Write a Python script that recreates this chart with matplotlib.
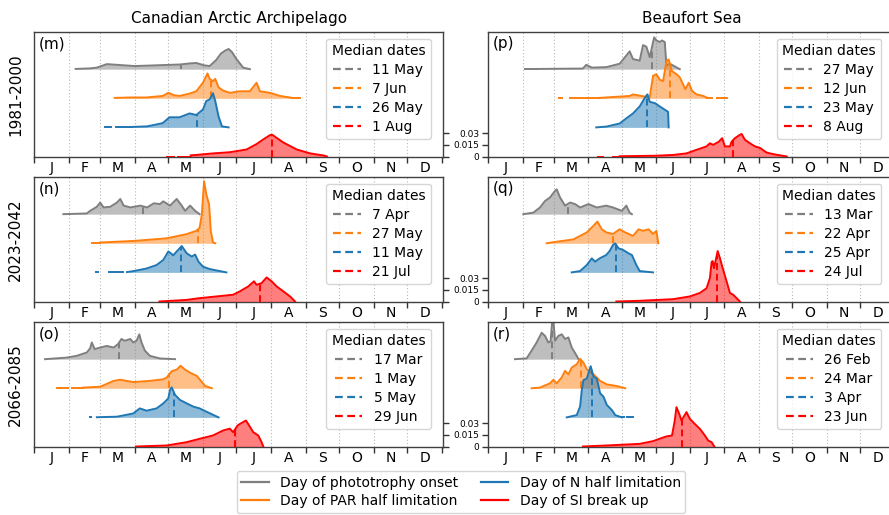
import numpy as np
import matplotlib
matplotlib.use("Agg")
import matplotlib.pyplot as plt
from matplotlib.lines import Line2D

# ---------------- data ----------------
months = ['J', 'F', 'M', 'A', 'M', 'J', 'J', 'A', 'S', 'O', 'N', 'D']
month_starts = [0, 31, 59, 90, 120, 151, 181, 212, 243, 273, 304, 334, 365]
regions = ['Canadian Arctic Archipelago', 'Beaufort Sea']
periods = ['1981-2000', '2023-2042', '2066-2085']
panel_letters = [['(m)', '(p)'], ['(n)', '(q)'], ['(o)', '(r)']]
series_names = ['Day of phototrophy onset', 'Day of PAR half limitation',
                'Day of N half limitation', 'Day of SI break up']
density_ticks = [0, 0.015, 0.03]
density_ticklabels = ['0', '0.015', '0.03']

# median dates (day of year) and their labels, order: onset, PAR, N, SI
median_days_m = [131, 158, 146, 213]
median_lbls_m = ['11 May', '7 Jun', '26 May', '1 Aug']
median_days_n = [97, 147, 131, 202]
median_lbls_n = ['7 Apr', '27 May', '11 May', '21 Jul']
median_days_o = [76, 121, 125, 180]
median_lbls_o = ['17 Mar', '1 May', '5 May', '29 Jun']
median_days_p = [147, 163, 143, 220]
median_lbls_p = ['27 May', '12 Jun', '23 May', '8 Aug']
median_days_q = [72, 112, 115, 205]
median_lbls_q = ['13 Mar', '22 Apr', '25 Apr', '24 Jul']
median_days_r = [57, 83, 93, 174]
median_lbls_r = ['26 Feb', '24 Mar', '3 Apr', '23 Jun']

# density curves: [day, density]
m_onset = [[37, 0.0003], [50, 0.001], [56, 0.002], [65, 0.0065], [70, 0.006], [80, 0.005],
           [90, 0.004], [100, 0.0045], [110, 0.005], [120, 0.0055], [130, 0.006], [140, 0.0075],
           [145, 0.008], [152, 0.005], [157, 0.004], [163, 0.012], [167, 0.02], [171, 0.024],
           [174, 0.026], [177, 0.022], [181, 0.013], [187, 0.002], [193, 0.0]]
m_par = [[72, 0.0005], [86, 0.001], [100, 0.001], [115, 0.003], [120, 0.007], [125, 0.004],
         [130, 0.003], [139, 0.006], [145, 0.009], [151, 0.02], [155, 0.032], [157, 0.025],
         [160, 0.022], [162, 0.025], [165, 0.014], [169, 0.01], [175, 0.007], [184, 0.009],
         [193, 0.009], [199, 0.02], [202, 0.009], [211, 0.007], [220, 0.003], [232, 0.0003]]
m_n = [[86, 0.0005], [101, 0.0013], [115, 0.0055], [121, 0.013], [130, 0.013], [139, 0.018],
       [145, 0.016], [151, 0.023], [154, 0.034], [157, 0.036], [160, 0.044], [162, 0.034],
       [165, 0.014], [168, 0.0013], [174, 0.0]]
m_si = [[140, 0.0015], [145, 0.002], [160, 0.004], [175, 0.0055], [190, 0.009], [199, 0.016],
        [205, 0.022], [211, 0.0275], [213, 0.028], [217, 0.024], [223, 0.018], [235, 0.009],
        [247, 0.004], [259, 0.0013], [262, 0.0]]

n_onset = [[26, 0.0], [47, 0.0009], [50, 0.0043], [56, 0.0095], [59, 0.015], [62, 0.0087],
           [68, 0.0095], [74, 0.015], [77, 0.0196], [80, 0.011], [86, 0.0087], [95, 0.011],
           [101, 0.0087], [107, 0.014], [112.5, 0.013], [115.5, 0.0165], [121.5, 0.011],
           [127.5, 0.0196], [132, 0.011], [135, 0.0043], [139.5, 0.011], [144, 0.0043], [148, 0.0]]
n_par = [[59, 0.001], [89, 0.003], [118.5, 0.0064], [136, 0.0116], [145, 0.016], [148, 0.02],
         [150, 0.037], [152, 0.08], [154, 0.063], [156.5, 0.05], [158, 0.016], [160, 0.001],
         [162, 0.0]]
n_n = [[83, 0.0004], [89, 0.0017], [100.5, 0.005], [109.5, 0.0095], [115.5, 0.016], [120, 0.027],
       [124.5, 0.022], [127.5, 0.027], [132, 0.034], [136.5, 0.0245], [141, 0.0204], [144, 0.023],
       [147, 0.0138], [151, 0.0074], [157, 0.0043], [172, 0.0]]
n_si = [[112, 0.0], [136, 0.002], [148, 0.0043], [163, 0.0065], [178, 0.0087], [184, 0.013],
        [191.5, 0.0194], [196.7, 0.026], [199, 0.0215], [203.5, 0.0237], [208, 0.031],
        [212.5, 0.026], [217, 0.0194], [223, 0.013], [229, 0.0065], [233.5, 0.0]]

o_onset = [[9.6, 0.0], [29, 0.002], [38, 0.0043], [47, 0.0086], [50, 0.014], [51.5, 0.0215],
           [54, 0.013], [59, 0.015], [65, 0.017], [71, 0.015], [75, 0.0194], [78, 0.026],
           [81, 0.0237], [86, 0.026], [88.6, 0.0215], [91.6, 0.0237], [94, 0.032], [96, 0.0215],
           [99, 0.011], [103.5, 0.0043], [112.5, 0.0009], [126, 0.0]]
o_par = [[44, 0.0009], [59, 0.002], [71, 0.0095], [77, 0.011], [88.5, 0.008], [103.5, 0.0095],
         [115.5, 0.0116], [118.5, 0.0138], [123, 0.022], [127.5, 0.024], [131, 0.029],
         [135, 0.024], [139.5, 0.02], [145.5, 0.016], [148, 0.0116], [153, 0.003], [159, 0.0]]
o_n = [[56, 0.0002], [74, 0.0009], [88.5, 0.005], [94.5, 0.0116], [100.5, 0.0086],
       [109.5, 0.0116], [115.5, 0.018], [120, 0.0245], [121.5, 0.0353], [123, 0.0387],
       [126, 0.029], [130.5, 0.0224], [136.5, 0.018], [142.5, 0.0138], [148, 0.0116],
       [154, 0.0074], [165, 0.0]]
o_si = [[91, 0.0], [118.5, 0.0013], [136.5, 0.0056], [148, 0.0099], [160, 0.0142], [169, 0.0206],
        [175, 0.023], [178, 0.0185], [182, 0.027], [184, 0.029], [189.5, 0.0335], [191.5, 0.029],
        [196, 0.0185], [200.5, 0.0142], [203.5, 0.0056], [205, 0.0]]

p_onset = [[44, 0.0003], [85, 0.0008], [88, 0.0056], [93, 0.002], [106, 0.0026], [118, 0.007],
           [124, 0.0176], [127, 0.023], [130, 0.013], [136, 0.011], [139, 0.031], [142, 0.029],
           [145, 0.0155], [149, 0.041], [151, 0.037], [154, 0.035], [156, 0.037], [158.5, 0.035],
           [160, 0.0047], [163, 0.007], [166, 0.0047], [172, 0.0]]
p_par = [[100, 0.0005], [127, 0.003], [130, 0.005], [145, 0.001], [148, 0.029], [151, 0.031],
         [154, 0.024], [157, 0.022], [160, 0.048], [162, 0.05], [165, 0.035], [169, 0.031],
         [172, 0.027], [177, 0.0116], [180, 0.02], [183, 0.0095], [187, 0.005], [193, 0.003],
         [196, 0.001]]
p_n = [[97, 0.0], [106, 0.001], [118, 0.005], [124, 0.0116], [130, 0.018], [136, 0.027],
       [141, 0.039], [143, 0.0425], [145, 0.033], [150, 0.031], [154, 0.027], [159, 0.0224],
       [161.5, 0.02], [162, 0.0]]
p_si = [[118, 0.0003], [151, 0.001], [166, 0.002], [178, 0.004], [187, 0.0086], [196, 0.013],
        [199, 0.017], [202, 0.015], [207, 0.019], [210, 0.0236], [212.5, 0.013], [217, 0.013],
        [218.5, 0.019], [221.5, 0.0236], [226, 0.028], [227.5, 0.029], [230.5, 0.0215],
        [235, 0.017], [239.5, 0.013], [244, 0.011], [250, 0.005], [256, 0.003], [268, 0.0]]

q_onset = [[31.5, 0.0], [40.5, 0.002], [46.5, 0.0086], [51, 0.017], [55.5, 0.0215], [60, 0.03],
           [61.5, 0.032], [64.5, 0.0215], [69, 0.011], [73.5, 0.015], [78, 0.013], [82.5, 0.0086],
           [90, 0.013], [97.5, 0.0086], [106, 0.011], [112, 0.0086], [120, 0.0043], [124, 0.011],
           [127, 0.002], [129, 0.0]]
q_par = [[52.5, 0.0], [61.5, 0.002], [76.5, 0.005], [82.5, 0.0095], [88.5, 0.014], [94.5, 0.0225],
         [98, 0.028], [102, 0.018], [106, 0.014], [112, 0.012], [118, 0.018], [123, 0.014],
         [130, 0.0095], [135, 0.018], [139, 0.016], [144, 0.018], [148, 0.012], [151, 0.016],
         [152.7, 0.0]]
q_n = [[75, 0.0], [82.5, 0.0017], [88.5, 0.0095], [93, 0.018], [96, 0.0138], [100, 0.018],
       [106, 0.0224], [109, 0.0275], [112, 0.0353], [114, 0.0374], [117, 0.031], [121, 0.029],
       [126, 0.0245], [129, 0.0224], [133, 0.0095], [136, 0.0017], [148, 0.0]]
q_si = [[115, 0.0], [136, 0.0009], [166, 0.003], [181, 0.0065], [190, 0.011], [196, 0.017],
        [199, 0.03], [200.6, 0.051], [201.5, 0.052], [202.7, 0.043], [206, 0.065], [208, 0.056],
        [210.5, 0.043], [214, 0.026], [217, 0.011], [220, 0.0086], [223, 0.0043], [226, 0.0]]

r_onset = [[24, 0.0], [34.5, 0.001], [39, 0.011], [43.5, 0.0215], [48, 0.034], [51, 0.03],
           [54, 0.0215], [56, 0.023], [57.5, 0.05], [58.5, 0.05], [60, 0.0237], [63, 0.03],
           [66, 0.032], [69, 0.026], [72, 0.028], [75, 0.015], [79.5, 0.0043], [81, 0.0]]
r_par = [[39, 0.0], [46.5, 0.0009], [55.5, 0.0064], [58.5, 0.011], [61.5, 0.0064], [66, 0.014],
         [69, 0.0224], [72, 0.018], [75, 0.0267], [79.5, 0.031], [82.5, 0.038], [85.5, 0.033],
         [88.5, 0.0245], [94.5, 0.018], [100.5, 0.0095], [106.5, 0.005], [115, 0.003], [123, 0.0]]
r_n = [[70.5, 0.0], [79.5, 0.003], [82.5, 0.014], [84, 0.035], [85.5, 0.048], [88.5, 0.05],
       [90, 0.057], [92, 0.066], [94.5, 0.0525], [97.5, 0.05], [100.5, 0.031], [103.5, 0.0267],
       [106.5, 0.016], [111, 0.0095], [114, 0.003], [120, 0.0]]
r_si = [[85, 0.0], [106, 0.0013], [136, 0.0034], [148, 0.0069], [154, 0.01], [160, 0.013],
        [165, 0.0142], [167.5, 0.0335], [169, 0.0507], [171.5, 0.042], [173.5, 0.0335],
        [178, 0.0443], [181, 0.0357], [185.5, 0.029], [190, 0.0228], [194.5, 0.0142],
        [197.5, 0.0077], [200.5, 0.0056], [203, 0.0]]

# sparse (dashed-looking) low-density stretches: series index -> [start day, end day]
sparse_m = {1: [[232, 238]], 2: [[63, 69], [73, 86]], 3: [[119, 125], [129, 140]]}
sparse_n = {1: [[52, 59]], 2: [[55, 57], [67, 79]]}
sparse_o = {1: [[20, 30], [34, 44]], 2: [[50, 51]]}
sparse_p = {0: [[33, 44]], 1: [[64, 66], [73, 100], [196, 201], [205, 214]], 3: [[99, 103], [112, 118]]}
sparse_q = {}
sparse_r = {2: [[120, 122], [125, 130]]}

# ---------------- style ----------------
colors = ['#7f7f7f', '#ff7f0e', '#1f77b4', '#ff0000']
offsets = [0.1125, 0.075, 0.0375, 0.0]

panels = [
    [(m_onset, m_par, m_n, m_si, median_days_m, median_lbls_m, sparse_m),
     (p_onset, p_par, p_n, p_si, median_days_p, median_lbls_p, sparse_p)],
    [(n_onset, n_par, n_n, n_si, median_days_n, median_lbls_n, sparse_n),
     (q_onset, q_par, q_n, q_si, median_days_q, median_lbls_q, sparse_q)],
    [(o_onset, o_par, o_n, o_si, median_days_o, median_lbls_o, sparse_o),
     (r_onset, r_par, r_n, r_si, median_days_r, median_lbls_r, sparse_r)],
]

W, H = 889, 515
fig = plt.figure(figsize=(W / 100, H / 100), dpi=100)

col_x = [34.3 / W, 488.2 / W]
col_w = [408.8 / W, 407.7 / W]
row_top = [32.3, 177.3, 322.3]
row_h = 124.2

mid_month = [(month_starts[i] + month_starts[i + 1]) / 2 for i in range(12)]

for r in range(3):
    for c in range(2):
        ax = fig.add_axes([col_x[c], 1 - (row_top[r] + row_h) / H, col_w[c], row_h / H])
        onset, par, nn, si, med_days, med_lbls, sparse = panels[r][c]
        curves = [onset, par, nn, si]
        for i, cur in enumerate(curves):
            arr = np.array(cur, dtype=float)
            d, v = arr[:, 0], arr[:, 1]
            off = offsets[i]
            ax.fill_between(d, off, off + v, color=colors[i], alpha=0.5, lw=0, zorder=2 + i)
            ax.plot(d, off + v, color=colors[i], lw=1.4, zorder=2.5 + i)
            for seg in sparse.get(i, []):
                ax.plot(seg, [off, off], color=colors[i], lw=1.4, zorder=2.5 + i)
            md = med_days[i]
            vm = np.interp(md, d, v)
            ax.plot([md, md], [off, off + vm], color=colors[i], lw=1.4, ls=(0, (3.5, 2)),
                    zorder=2.6 + i)
        ax.set_xlim(0, 366)
        ax.set_ylim(0, 0.16)
        ax.set_xticks(month_starts)
        ax.set_xticklabels([])
        ax.set_xticks(mid_month, minor=True)
        ax.set_xticklabels(months, minor=True, fontsize=10)
        ax.tick_params(axis='x', which='major', length=4.5, width=1.0, direction='out', colors='0.2')
        ax.tick_params(axis='x', which='minor', length=0, pad=3, labelcolor='black')
        for xs in month_starts[1:-1]:
            ax.axvline(xs, color='#b8b8b8', lw=0.8, ls=(0, (1, 2)), zorder=1)
        ax.set_yticks(density_ticks)
        if c == 0:
            ax.yaxis.tick_right()
            ax.set_yticklabels([])
            ax.set_ylabel(periods[r], fontsize=11, labelpad=8)
        else:
            ax.yaxis.tick_left()
            ax.set_yticklabels(density_ticklabels, fontsize=6.5)
        ax.tick_params(axis='y', length=4.5, width=1.0, pad=2, colors='0.2', labelcolor='black')
        for sp in ax.spines.values():
            sp.set_color('0.25')
            sp.set_linewidth(1.0)
        ax.text(0.012, 0.97, panel_letters[r][c], transform=ax.transAxes, fontsize=11,
                va='top', ha='left')
        handles = [Line2D([0], [0], color=colors[i], lw=1.6, ls=(0, (3.5, 2))) for i in range(4)]
        leg = ax.legend(handles, med_lbls, title='Median dates', loc='upper right',
                        fontsize=10, title_fontsize=10, borderaxespad=0.45,
                        bbox_to_anchor=(0.985 if c == 0 else 1.0 - 0.02, 1.0),
                        handletextpad=0.8, labelspacing=0.35)
        leg.get_frame().set_edgecolor('#cccccc')
        if r == 0:
            ax.set_title(regions[c], fontsize=11, pad=7)

fig_handles = [Line2D([0], [0], color=colors[i], lw=1.6) for i in range(4)]
fig.legend(fig_handles, series_names, ncol=2, loc='center',
           bbox_to_anchor=(461 / W, 1 - 492 / H), fontsize=10, handlelength=2.0,
           columnspacing=1.6, labelspacing=0.3, borderpad=0.35).get_frame().set_edgecolor('#cccccc')

fig.savefig('out.png', dpi=100)
